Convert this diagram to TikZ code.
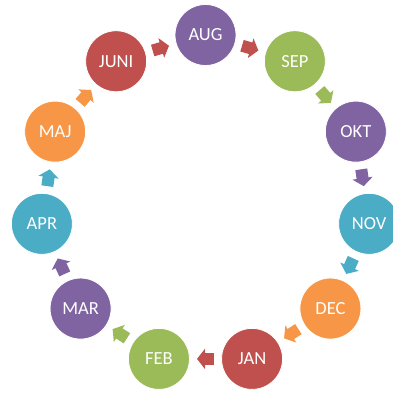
\documentclass[tikz,border=0pt]{standalone}
\usepackage{fontspec}
\setmainfont{Carlito}
\usetikzlibrary{calc,arrows.meta}
\definecolor{mred}{HTML}{C0504D}
\definecolor{mpurple}{HTML}{8064A2}
\definecolor{mgreen}{HTML}{9BBB59}
\definecolor{mteal}{HTML}{4BACC6}
\definecolor{morange}{HTML}{F79646}
\begin{document}
\begin{tikzpicture}[x=1pt,y=1pt]
        \tikzstyle{month}=[circle,draw=white,line width=0.8pt,minimum size=61pt,inner sep=0pt,text=white,font=\fontsize{18.5}{22}\selectfont]
        \tikzstyle{blockarrow}=[line width=12pt,-{Triangle[length=8pt,width=20pt]}]
        \useasboundingbox (0,0) rectangle (393,392);
        \coordinate (c) at (205.5,191.7);
        % months around the ring
        \foreach \m/\col [count=\i from 0] in {AUG/mpurple,SEP/mgreen,OKT/mpurple,NOV/mteal,DEC/morange,JAN/mred,FEB/mgreen,MAR/mpurple,APR/mteal,MAJ/morange,JUNI/mred}
          \node [month,fill=\col] (m\i) at ($(c)+({90-\i*360/11}:165.3)$) {\m};
        % block arrows between neighbours
        \foreach \a/\b/\col in {0/1/mred,1/2/mgreen,2/3/mpurple,3/4/mteal,4/5/morange,5/6/mred,6/7/mgreen,7/8/mpurple,8/9/mteal,9/10/morange,10/0/mred}
          \draw [blockarrow,draw=\col,fill=\col] ($(m\a)!0.5!(m\b)!8.5pt!(m\a)$) -- ($(m\a)!0.5!(m\b)!8.5pt!(m\b)$);
\end{tikzpicture}
\end{document}
